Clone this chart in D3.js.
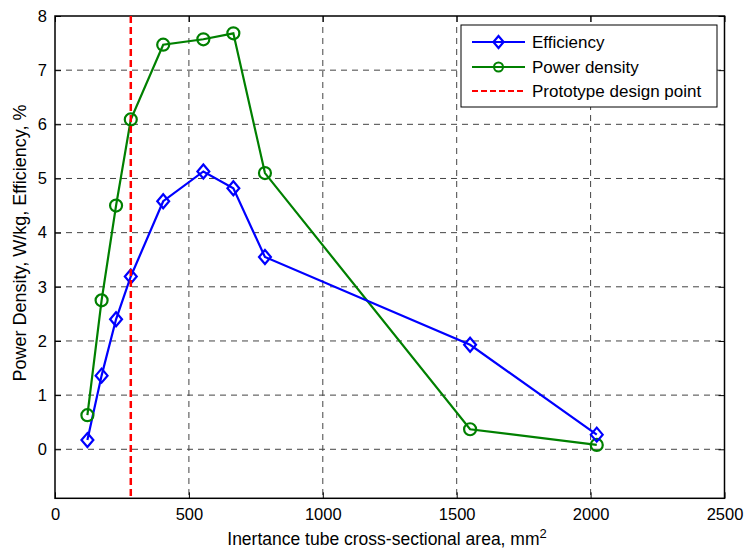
<!DOCTYPE html>
<html>
<head>
<meta charset="utf-8">
<script src="https://cdn.jsdelivr.net/npm/d3@7/dist/d3.min.js"></script>
<style>
  html, body { margin: 0; padding: 0; background: #fff; }
  svg { display: block; font-family: "Liberation Sans", Arial, sans-serif; }
</style>
</head>
<body>
<svg id="chart" width="747" height="554"></svg>
<script>
// Cross-sectional area of the inertance tube, mm^2
const area = [121, 174, 228, 283, 404, 554, 666, 784, 1550, 2023];
// Efficiency, %
const efficiency = [0.17, 1.36, 2.40, 3.19, 4.58, 5.13, 4.82, 3.55, 1.93, 0.27];
// Power density, W/kg
const powerDensity = [0.63, 2.75, 4.50, 6.09, 7.47, 7.57, 7.68, 5.10, 0.37, 0.08];
// Prototype design point (area, mm^2)
const designPoint = [283];
const xTicks = [0, 500, 1000, 1500, 2000, 2500];
const yTicks = [0, 1, 2, 3, 4, 5, 6, 7, 8];
const legendLabels = ["Efficiency", "Power density", "Prototype design point"];

const svg = d3.select("#chart");
const plotL = 55, plotR = 724.5, plotT = 16, plotB = 498.3;

const x = d3.scaleLinear().domain([0, 2500]).range([plotL, plotR]);
const y = d3.scaleLinear().domain([-0.905, 8]).range([plotB, plotT]);

// Grid lines
const grid = svg.append("g").attr("stroke", "#444").attr("stroke-width", 1)
  .attr("stroke-dasharray", "6,5").attr("fill", "none");
xTicks.slice(1, -1).forEach(t => {
  grid.append("line").attr("x1", x(t)).attr("x2", x(t)).attr("y1", plotT).attr("y2", plotB);
});
yTicks.slice(0, -1).forEach(t => {
  grid.append("line").attr("x1", plotL).attr("x2", plotR).attr("y1", y(t)).attr("y2", y(t));
});

// Axes (ticks pointing inward, box all around)
const fmt = d3.format("d");
const xAxis = d3.axisBottom(x).tickValues(xTicks).tickFormat(fmt).tickSizeInner(-6).tickSizeOuter(0).tickPadding(10);
const yAxis = d3.axisLeft(y).tickValues(yTicks).tickFormat(fmt).tickSizeInner(-6).tickSizeOuter(0).tickPadding(8);
const xTop = d3.axisTop(x).tickValues(xTicks).tickSizeInner(-6).tickSizeOuter(0).tickFormat("");
const yRight = d3.axisRight(y).tickValues(yTicks).tickSizeInner(-6).tickSizeOuter(0).tickFormat("");

function styleAxis(g) {
  g.select(".domain").remove();
  g.selectAll("line").attr("stroke", "#000").attr("stroke-width", 1);
  g.selectAll("text").attr("fill", "#000").style("font-size", "16.5px")
    .style("font-family", "'Liberation Sans', Arial, sans-serif");
}
svg.append("g").attr("transform", `translate(0,${plotB})`).call(xAxis).call(styleAxis);
svg.append("g").attr("transform", `translate(${plotL},0)`).call(yAxis).call(styleAxis);
svg.append("g").attr("transform", `translate(0,${plotT})`).call(xTop).call(styleAxis);
svg.append("g").attr("transform", `translate(${plotR},0)`).call(yRight).call(styleAxis);

svg.append("rect").attr("x", plotL).attr("y", plotT).attr("width", plotR - plotL).attr("height", plotB - plotT)
  .attr("fill", "none").attr("stroke", "#000").attr("stroke-width", 1.5);

// Data series
const line = d3.line().x(d => x(d[0])).y(d => y(d[1]));
const effPts = area.map((a, i) => [a, efficiency[i]]);
const pdPts = area.map((a, i) => [a, powerDensity[i]]);

svg.append("path").datum(pdPts).attr("d", line).attr("fill", "none")
  .attr("stroke", "#008000").attr("stroke-width", 2.2);
svg.append("path").datum(effPts).attr("d", line).attr("fill", "none")
  .attr("stroke", "#0000ff").attr("stroke-width", 2.2);

function diamond(g, cx, cy, r) {
  g.append("path").attr("d", `M${cx},${cy - r}L${cx + r * 0.85},${cy}L${cx},${cy + r}L${cx - r * 0.85},${cy}Z`)
    .attr("fill", "none").attr("stroke", "#0000ff").attr("stroke-width", 2.2);
}
const markers = svg.append("g");
pdPts.forEach(d => {
  markers.append("circle").attr("cx", x(d[0])).attr("cy", y(d[1])).attr("r", 6)
    .attr("fill", "none").attr("stroke", "#008000").attr("stroke-width", 2.2);
});
effPts.forEach(d => diamond(markers, x(d[0]), y(d[1]), 7));

// Prototype design point
svg.append("line").attr("x1", x(designPoint[0])).attr("x2", x(designPoint[0]))
  .attr("y1", plotT).attr("y2", plotB)
  .attr("stroke", "#ff0000").attr("stroke-width", 2.5).attr("stroke-dasharray", "7,4");

// Legend
const lg = svg.append("g");
lg.append("rect").attr("x", 461).attr("y", 25).attr("width", 256).attr("height", 82)
  .attr("fill", "#fff").attr("stroke", "#000").attr("stroke-width", 1);
const rowsY = [42, 67, 91];
lg.append("line").attr("x1", 472).attr("x2", 525).attr("y1", rowsY[0]).attr("y2", rowsY[0])
  .attr("stroke", "#0000ff").attr("stroke-width", 2);
diamond(lg, 498.5, rowsY[0], 6);
lg.append("line").attr("x1", 472).attr("x2", 525).attr("y1", rowsY[1]).attr("y2", rowsY[1])
  .attr("stroke", "#008000").attr("stroke-width", 2);
lg.append("circle").attr("cx", 498.5).attr("cy", rowsY[1]).attr("r", 4.5)
  .attr("fill", "none").attr("stroke", "#008000").attr("stroke-width", 2);
lg.append("line").attr("x1", 472).attr("x2", 525).attr("y1", rowsY[2]).attr("y2", rowsY[2])
  .attr("stroke", "#ff0000").attr("stroke-width", 2).attr("stroke-dasharray", "6,3");
legendLabels.forEach((t, i) => {
  lg.append("text").attr("x", 532).attr("y", rowsY[i]).attr("dy", "0.35em")
    .style("font-size", "17px").attr("fill", "#000").text(t);
});

// Axis titles
const xl = svg.append("text").attr("x", 387).attr("y", 545).attr("text-anchor", "middle")
  .style("font-size", "17.5px").attr("fill", "#000");
xl.append("tspan").text("Inertance tube cross-sectional area, mm");
xl.append("tspan").attr("dy", -7).style("font-size", "13px").text("2");

svg.append("text").attr("transform", "translate(26,243) rotate(-90)")
  .attr("text-anchor", "middle").style("font-size", "18px").attr("fill", "#000")
  .text("Power Density, W/kg, Efficiency, %");
</script>
</body>
</html>
